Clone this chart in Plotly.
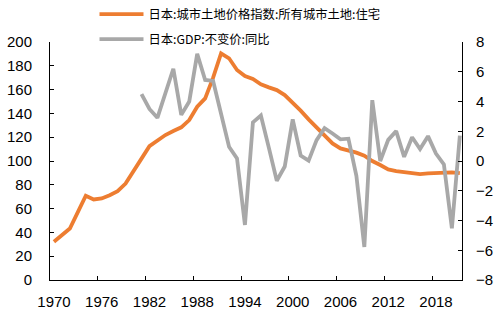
import plotly.graph_objects as go

years_land = list(range(1970, 2022))
land_price = [32.1, 37.5, 43.3, 57.0, 70.8, 67.7, 68.5, 71.3, 74.7, 81.0,
              91.0, 102.0, 112.5, 117.6, 121.8, 125.2, 128.3, 134.4, 145.6, 152.6,
              170.0, 190.5, 186.3, 176.5, 171.4, 168.9, 164.4, 161.9, 159.6, 155.4,
              149.3, 142.3, 135.0, 128.0, 121.0, 114.8, 110.6, 108.9, 107.0, 104.4,
              100.0, 96.6, 92.9, 91.5, 90.4, 89.8, 89.0, 89.6, 89.8, 90.2,
              90.4, 89.8]

years_gdp = list(range(1981, 2022))
gdp_yoy = [4.5, 3.5, 2.9, 4.6, 6.2, 3.1, 4.0, 7.2, 5.45, 5.38,
           3.3, 0.96, 0.18, -4.3, 2.6, 3.06, 0.9, -1.33, -0.37, 2.8,
           0.37, 0.02, 1.4, 2.21, 1.85, 1.46, 1.5, -1.0, -5.78, 4.09,
           0.0, 1.42, 2.01, 0.28, 1.6, 0.8, 1.67, 0.5, -0.23, -4.53,
           1.7]

x_ticks = [1970, 1976, 1982, 1988, 1994, 2000, 2006, 2012, 2018]

name_land = "日本:城市土地价格指数:所有城市土地:住宅"
name_gdp = "日本:GDP:不变价:同比"

ORANGE = "#ED7D31"
GREY = "#A8A8A8"

def mid_year(ys):
    return [f"{y}-07-01" for y in ys]

fig = go.Figure()
fig.add_trace(go.Scatter(x=mid_year(years_land), y=land_price, name=name_land,
                         mode="lines", line=dict(color=ORANGE, width=3.8),
                         legendgroup="a", yaxis="y"))
fig.add_trace(go.Scatter(x=mid_year(years_gdp), y=gdp_yoy, name=name_gdp,
                         mode="lines", line=dict(color=GREY, width=3.8),
                         legendgroup="b", yaxis="y2"))

tick_font = dict(family="Arial, Liberation Sans", size=15, color="#000000")

fig.update_layout(
    width=496, height=325,
    margin=dict(l=50, r=34, t=42, b=45, autoexpand=False),
    paper_bgcolor="white", plot_bgcolor="white",
    showlegend=True,
    legend=dict(x=0.108, y=1.178, xanchor="left", yanchor="top",
                orientation="v", bgcolor="rgba(0,0,0,0)",
                font=dict(family="Noto Sans CJK SC", size=12.3, color="#000000"),
                itemwidth=44, tracegroupgap=6),
    xaxis=dict(type="date",
               range=["1970-01-01", "2021-10-08"],
               tickvals=[f"{y}-01-01" for y in x_ticks],
               ticktext=[str(y) for y in x_ticks],
               ticks="inside", ticklen=4, tickcolor="#000000",
               showline=True, linecolor="#000000", linewidth=1,
               showgrid=False, zeroline=False,
               tickfont=tick_font, ticklabelshift=4, ticklabelstandoff=8),
    yaxis=dict(range=[0, 200], dtick=20,
               ticks="inside", ticklen=4, tickcolor="#000000",
               showline=True, linecolor="#000000", linewidth=1,
               showgrid=False, zeroline=False,
               tickfont=tick_font, ticklabelstandoff=14),
    yaxis2=dict(range=[-8, 8], dtick=2, overlaying="y", side="right",
                ticks="inside", ticklen=4, tickcolor="#000000",
                showline=True, linecolor="#000000", linewidth=1,
                showgrid=False, zeroline=False,
                tickfont=tick_font, ticklabelstandoff=10),
)

fig.write_html("out.html")
